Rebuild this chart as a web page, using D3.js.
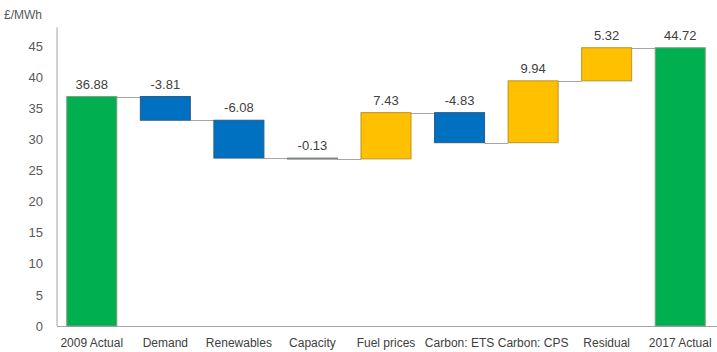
<!DOCTYPE html>
<html><head><meta charset="utf-8">
<script src="https://cdn.jsdelivr.net/npm/d3@7"></script>
<style>body{margin:0;background:#fff;}svg{display:block;font-family:"Liberation Sans",Arial,sans-serif;}</style>
</head><body><svg id="c" width="717" height="352"></svg>
<script>
const categories = ["2009 Actual","Demand","Renewables","Capacity","Fuel prices","Carbon: ETS","Carbon: CPS","Residual","2017 Actual"];
const values = [36.88,-3.81,-6.08,-0.13,7.43,-4.83,9.94,5.32,44.72];
const kinds = ["total","delta","delta","delta","delta","delta","delta","delta","total"];
const yTicks = [0,5,10,15,20,25,30,35,40,45];
const unitLabel = "£/MWh";

const colors = {total:"#00B050", up:"#FFC000", down:"#0070C0"};
const strokes = {total:"#7F9F7F", up:"#B8942A", down:"#2A5C8A"};

const svg = d3.select("#c");
const x = d3.scaleBand().domain(categories).range([55,717]).paddingInner(0.32).paddingOuter(0.16);
const y = d3.scaleLinear().domain([0,45]).range([326,46]);

let cum = 0;
const bars = categories.map((c,i)=>{
  let y0,y1,type;
  if(kinds[i]==="total"){ y0=0; y1=values[i]; cum=values[i]; type="total"; }
  else { y0=cum; y1=cum+values[i]; cum=y1; type=values[i]>=0?"up":"down"; }
  return {c, v:values[i], lo:Math.min(y0,y1), hi:Math.max(y0,y1), end:y1, type};
});

svg.append("line").attr("x1",57).attr("x2",57).attr("y1",y(48)).attr("y2",y(0)).attr("stroke","#A6A6A6").attr("stroke-width",1);
svg.append("line").attr("x1",57).attr("x2",717).attr("y1",y(0)+0.5).attr("y2",y(0)+0.5).attr("stroke","#A6A6A6").attr("stroke-width",1);

const yAxis = d3.axisLeft(y).tickValues(yTicks).tickSize(0).tickPadding(0).tickFormat(d3.format("d"));
const ga = svg.append("g").attr("transform","translate(43,0)").call(yAxis);
ga.select(".domain").remove();
ga.selectAll("text").attr("fill","#595959").attr("font-size","13px").attr("font-family","Liberation Sans, Arial, sans-serif");

svg.append("text").attr("x",4).attr("y",19).attr("fill","#595959").attr("font-size","12px").text(unitLabel);

for(let i=0;i<bars.length-1;i++){
  const lvl = bars[i].end;
  svg.append("line").attr("x1",x(categories[i])+x.bandwidth()).attr("x2",x(categories[i+1]))
    .attr("y1",Math.round(y(lvl))+0.5).attr("y2",Math.round(y(lvl))+0.5).attr("stroke","#A6A6A6").attr("stroke-width",1);
}

svg.selectAll("rect.bar").data(bars).enter().append("rect").attr("class","bar")
  .attr("x",d=>x(d.c)).attr("width",x.bandwidth())
  .attr("y",d=>y(d.hi)).attr("height",d=>Math.max(1,y(d.lo)-y(d.hi)))
  .attr("fill",d=>colors[d.type])
  .attr("stroke",d=>(y(d.lo)-y(d.hi))<2 ? "#808080" : strokes[d.type]).attr("stroke-width",1);

svg.selectAll("text.val").data(bars).enter().append("text").attr("class","val")
  .attr("x",d=>x(d.c)+x.bandwidth()/2).attr("y",d=>y(d.hi)-8)
  .attr("text-anchor","middle").attr("fill","#404040").attr("font-size","13px")
  .text(d=>d.v.toFixed(2));

const xAxis = d3.axisBottom(x).tickSize(0).tickPadding(0);
const gx = svg.append("g").attr("transform","translate(0,338)").call(xAxis);
gx.select(".domain").remove();
gx.selectAll("text").attr("fill","#404040").attr("font-size","12px").attr("font-family","Liberation Sans, Arial, sans-serif");
</script></body></html>
